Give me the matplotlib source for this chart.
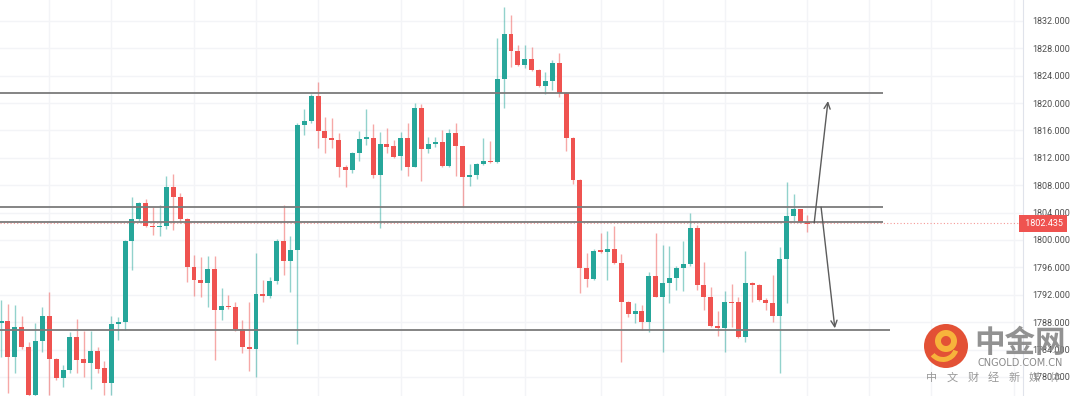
import numpy as np
import matplotlib
matplotlib.use("Agg")
import matplotlib.pyplot as plt
import matplotlib.transforms as mtransforms
from matplotlib.patches import Circle, Wedge

plt.rcParams['font.family'] = ['Roboto', 'DejaVu Sans']

# bougies, une par colonne
opens = [1787.9, 1788.2, 1782.9, 1787.3, 1784.4, 1777.4, 1785.3, 1788.9, 1782.6, 1779.8,
         1781.0, 1785.8, 1782.6, 1782.0, 1783.8, 1781.3, 1779.1, 1787.7, 1788.0, 1799.9,
         1803.1, 1805.4, 1802.0, 1801.9, 1802.0, 1807.7, 1806.3, 1803.1, 1796.1, 1794.2,
         1793.7, 1795.8, 1789.8, 1790.4, 1790.2, 1787.0, 1784.4, 1784.1, 1792.1, 1791.8,
         1794.0, 1799.9, 1796.9, 1798.5, 1816.8, 1817.4, 1821.0, 1815.9, 1814.9, 1814.6,
         1810.7, 1810.2, 1812.7, 1814.8, 1814.9, 1809.5, 1814.0, 1813.7, 1812.3, 1814.9,
         1810.7, 1819.3, 1813.3, 1814.0, 1814.3, 1810.8, 1815.6, 1813.7, 1809.2, 1809.5,
         1811.1, 1811.5, 1811.4, 1823.5, 1830.1, 1827.6, 1825.6, 1826.4, 1824.8, 1822.5,
         1823.2, 1825.9, 1821.5, 1814.9, 1808.8, 1795.9, 1794.3, 1798.4, 1798.3, 1798.7,
         1796.6, 1791.0, 1789.2, 1789.6, 1788.0, 1794.7, 1791.7, 1793.7, 1794.5, 1795.9,
         1796.5, 1801.8, 1793.4, 1791.7, 1787.4, 1787.1, 1791.0, 1791.0, 1785.8, 1793.7,
         1793.4, 1791.2, 1790.8, 1788.9, 1797.2, 1803.5, 1804.5, 1802.6]
closes = [1788.2, 1782.9, 1787.3, 1784.4, 1777.4, 1785.3, 1788.9, 1782.6, 1779.8, 1781.0,
          1785.8, 1782.5, 1782.0, 1783.8, 1781.2, 1779.1, 1787.7, 1788.0, 1799.9, 1803.1,
          1805.4, 1802.0, 1801.9, 1802.0, 1807.7, 1806.3, 1803.1, 1796.1, 1794.2, 1793.7,
          1795.8, 1789.8, 1790.4, 1790.2, 1787.0, 1784.4, 1784.1, 1792.1, 1791.8, 1794.0,
          1799.9, 1796.9, 1798.5, 1816.8, 1817.4, 1821.0, 1815.9, 1814.9, 1814.6, 1810.7,
          1810.2, 1812.7, 1814.8, 1814.9, 1809.5, 1814.0, 1813.6, 1812.1, 1814.9, 1810.7,
          1819.3, 1813.3, 1814.0, 1814.3, 1810.8, 1815.6, 1813.7, 1809.2, 1809.5, 1811.1,
          1811.5, 1811.4, 1823.5, 1830.1, 1827.6, 1825.6, 1826.4, 1824.8, 1822.5, 1823.2,
          1825.9, 1821.5, 1814.9, 1808.8, 1795.9, 1794.3, 1798.4, 1798.3, 1798.7, 1796.6,
          1791.0, 1789.2, 1789.6, 1788.0, 1794.7, 1791.7, 1793.7, 1794.5, 1795.9, 1796.5,
          1801.8, 1793.4, 1791.7, 1787.4, 1787.1, 1791.0, 1790.8, 1785.8, 1793.7, 1793.4,
          1791.2, 1790.8, 1788.9, 1797.2, 1803.5, 1804.5, 1802.6, 1802.4]
highs = [1791.2, 1790.7, 1790.5, 1788.9, 1785.1, 1787.9, 1790.2, 1792.4, 1782.7, 1781.7,
         1786.6, 1788.5, 1786.7, 1786.7, 1784.4, 1782.3, 1788.9, 1788.8, 1800.0, 1806.3,
         1805.6, 1806.0, 1804.8, 1805.1, 1809.4, 1809.6, 1806.9, 1803.2, 1797.8, 1797.5,
         1797.7, 1797.7, 1793.0, 1792.0, 1791.0, 1788.3, 1791.0, 1798.1, 1794.2, 1794.6,
         1800.1, 1805.1, 1800.6, 1817.1, 1819.1, 1821.3, 1823.1, 1818.0, 1817.8, 1815.6,
         1811.0, 1812.9, 1815.9, 1819.1, 1817.0, 1815.8, 1816.4, 1814.6, 1815.8, 1817.1,
         1820.0, 1819.9, 1815.1, 1815.1, 1816.1, 1816.2, 1817.1, 1813.8, 1811.1, 1811.2,
         1814.9, 1814.5, 1829.5, 1834.0, 1832.9, 1828.5, 1828.5, 1828.2, 1825.0, 1824.5,
         1826.3, 1827.3, 1821.6, 1815.0, 1808.9, 1798.1, 1798.7, 1801.0, 1801.3, 1802.0,
         1798.0, 1791.1, 1790.8, 1790.5, 1795.3, 1801.0, 1799.3, 1799.1, 1796.2, 1799.9,
         1804.0, 1802.2, 1796.8, 1793.1, 1789.6, 1792.6, 1793.6, 1791.7, 1798.4, 1793.8,
         1793.5, 1791.5, 1794.9, 1799.0, 1808.5, 1806.7, 1804.6, 1803.7]
lows = [1782.9, 1777.7, 1780.6, 1784.1, 1776.8, 1776.8, 1783.6, 1777.4, 1779.6, 1778.5,
        1780.6, 1780.6, 1780.0, 1778.2, 1780.6, 1777.4, 1777.4, 1785.4, 1786.9, 1795.6,
        1802.8, 1801.9, 1800.7, 1800.6, 1801.6, 1801.5, 1802.5, 1793.9, 1791.8, 1791.7,
        1790.2, 1782.5, 1788.3, 1789.9, 1786.7, 1783.5, 1780.9, 1780.0, 1791.0, 1791.5,
        1793.6, 1794.9, 1792.4, 1784.8, 1815.3, 1817.1, 1813.4, 1812.7, 1813.4, 1809.2,
        1807.7, 1809.8, 1811.5, 1813.9, 1809.1, 1801.8, 1812.7, 1812.0, 1810.2, 1809.4,
        1810.6, 1808.6, 1812.7, 1813.6, 1810.7, 1810.7, 1809.4, 1804.8, 1807.9, 1808.9,
        1811.0, 1811.2, 1811.2, 1819.3, 1825.3, 1825.4, 1825.1, 1824.7, 1822.4, 1821.3,
        1821.9, 1820.9, 1813.0, 1808.2, 1792.3, 1793.1, 1794.2, 1798.1, 1794.2, 1796.5,
        1782.2, 1788.8, 1787.9, 1786.9, 1786.6, 1791.6, 1783.6, 1790.8, 1792.7, 1792.6,
        1796.2, 1792.7, 1789.8, 1787.3, 1786.0, 1783.6, 1787.3, 1785.7, 1785.1, 1791.0,
        1791.1, 1789.8, 1788.0, 1780.6, 1790.8, 1802.8, 1802.5, 1801.2]

# axe des prix et grille
ticks_y = list(range(1780, 1836, 4))
grille_x = [7, 16, 28, 37, 46, 58, 67, 76, 87, 96, 105, 117, 126, 135, 147]

# lignes horizontales tracees a la main et fleches
niveaux = [1821.5, 1804.8, 1802.6, 1786.9]
niveaux_fin = [128, 128, 128, 129]
fleche_haut = [(118, 1802.5), (120, 1820.3)]
fleche_bas = [(119, 1804.8), (121, 1787.1)]

dernier_prix = 1802.435

vert = '#26a69a'
rouge = '#ef5350'

fig = plt.figure(figsize=(10.8, 3.96), dpi=100)
ax = fig.add_axes([0, 0, 1023 / 1080, 1])
ax.set_xlim(-0.15, 148.3)
ax.set_ylim(1777.21, 1835.06)

for yy in ticks_y:
    ax.axhline(yy, color='#f3f4f7', lw=1, zorder=0)
for xx in grille_x:
    ax.axvline(xx, color='#f3f4f7', lw=1, zorder=0)

x = np.arange(len(opens))
o = np.array(opens)
c = np.array(closes)
couleurs = [vert if c[i] >= o[i] else rouge for i in range(len(o))]

ax.vlines(x, lows, highs, colors=couleurs, lw=1, alpha=0.5, zorder=2)
hauteurs = np.maximum(np.abs(c - o), 0.2)
ax.bar(x, hauteurs, bottom=np.minimum(o, c), width=0.72, color=couleurs,
       linewidth=0, zorder=3)

# ligne du dernier prix
ax.axhline(dernier_prix, color=rouge, lw=0.8, ls=(0, (1, 2)), alpha=0.6, zorder=1)

ax.hlines(niveaux, -0.15, niveaux_fin, color='#7b7b7b', lw=1.3, zorder=4)

for f in [fleche_haut, fleche_bas]:
    ax.annotate('', xy=f[1], xytext=f[0],
                arrowprops=dict(arrowstyle='->,head_length=0.45,head_width=0.22',
                                color='#5c5c5c', lw=1, shrinkA=0, shrinkB=0), zorder=5)

ax.set_xticks([])
ax.yaxis.tick_right()
ax.set_yticks(ticks_y)
ax.set_yticklabels(['%d.000' % t for t in ticks_y])
ax.tick_params(axis='y', length=0, pad=7, labelsize=6.5, labelcolor='#4f4f4f')
for s in ['top', 'left', 'bottom']:
    ax.spines[s].set_visible(False)
ax.spines['right'].set_color('#e0e3eb')

trans = mtransforms.blended_transform_factory(ax.transAxes, ax.transData)
ax.text(1.0, dernier_prix, ' %.3f' % dernier_prix, transform=trans, ha='left', va='center',
        color='white', fontsize=6.5, clip_on=False, zorder=10,
        bbox=dict(boxstyle='square,pad=0.45', fc=rouge, ec='none'))

# filigrane
ov = fig.add_axes([0, 0, 1, 1])
ov.set_xlim(0, 1080)
ov.set_ylim(396, 0)
ov.axis('off')
ov.add_patch(Circle((946, 346), 22, fc='#e2472a', ec='none', alpha=0.95))
ov.add_patch(Wedge((946, 341), 11, 0, 360, width=6, fc='#f7b33b', ec='none'))
ov.add_patch(Wedge((943, 346), 16, 20, 140, width=5, fc='#f7b33b', ec='none'))
ov.text(1020, 343, '中金网', fontsize=22, fontweight='bold', color='#868686', alpha=0.9,
        ha='center', va='center', family=['Noto Sans CJK SC', 'DejaVu Sans'])
ov.text(1020, 363, 'CNGOLD.COM.CN', fontsize=7, color='#8a8a8a', ha='center', va='center',
        family=['DejaVu Sans'])
for i, ch in enumerate('中文财经新媒体'):
    ov.text(932 + i * 20.5, 378, ch, fontsize=8, color='#9a9a9a', ha='center', va='center',
            family=['Noto Sans CJK SC', 'DejaVu Sans'])

fig.savefig('out.png', dpi=100)
